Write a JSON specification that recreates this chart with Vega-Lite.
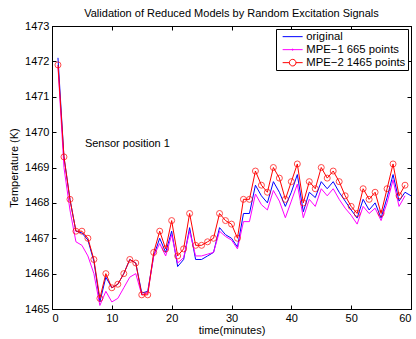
{
  "$schema": "https://vega.github.io/schema/vega-lite/v6.json",
  "width": 359,
  "height": 283,
  "autosize": "none",
  "padding": {"left": 52, "top": 26, "right": 5, "bottom": 30},
  "background": "white",
  "title": {"text": "Validation of Reduced Models by Random Excitation Signals", "font": "Liberation Sans", "fontSize": 11, "fontWeight": "normal", "color": "black", "anchor": "middle", "offset": 1},
  "config": {
    "view": {"stroke": "black", "strokeWidth": 1},
    "axis": {"grid": false, "domainColor": "black", "tickColor": "black", "labelColor": "black", "labelFont": "Liberation Sans", "labelFontSize": 11, "titleFont": "Liberation Sans", "titleFontSize": 11, "titleFontWeight": "normal", "titleColor": "black", "tickSize": -4, "labelPadding": 7}
  },
  "data": {"values": [
    {"t": 1, "original": 1472.1, "MPE−1 665 points": 1471.85, "MPE−2 1465 points": 1471.9},
    {"t": 2, "original": 1469.3, "MPE−1 665 points": 1469.0, "MPE−2 1465 points": 1469.3},
    {"t": 3, "original": 1468.1, "MPE−1 665 points": 1467.8, "MPE−2 1465 points": 1468.1},
    {"t": 4, "original": 1467.2, "MPE−1 665 points": 1466.9, "MPE−2 1465 points": 1467.2},
    {"t": 5, "original": 1467.15, "MPE−1 665 points": 1466.8, "MPE−2 1465 points": 1467.2},
    {"t": 6, "original": 1466.95, "MPE−1 665 points": 1466.5, "MPE−2 1465 points": 1467.0},
    {"t": 7, "original": 1466.35, "MPE−1 665 points": 1466.0, "MPE−2 1465 points": 1466.4},
    {"t": 8, "original": 1465.2, "MPE−1 665 points": 1465.1, "MPE−2 1465 points": 1465.3},
    {"t": 9, "original": 1465.9, "MPE−1 665 points": 1465.5, "MPE−2 1465 points": 1466.0},
    {"t": 10, "original": 1465.6, "MPE−1 665 points": 1465.2, "MPE−2 1465 points": 1465.6},
    {"t": 11, "original": 1465.7, "MPE−1 665 points": 1465.3, "MPE−2 1465 points": 1465.7},
    {"t": 12, "original": 1466.0, "MPE−1 665 points": 1465.6, "MPE−2 1465 points": 1466.0},
    {"t": 13, "original": 1466.4, "MPE−1 665 points": 1465.9, "MPE−2 1465 points": 1466.4},
    {"t": 14, "original": 1466.3, "MPE−1 665 points": 1466.0, "MPE−2 1465 points": 1466.3},
    {"t": 15, "original": 1465.45, "MPE−1 665 points": 1465.4, "MPE−2 1465 points": 1465.4},
    {"t": 16, "original": 1465.5, "MPE−1 665 points": 1465.45, "MPE−2 1465 points": 1465.4},
    {"t": 17, "original": 1466.5, "MPE−1 665 points": 1466.5, "MPE−2 1465 points": 1466.6},
    {"t": 18, "original": 1467.0, "MPE−1 665 points": 1466.85, "MPE−2 1465 points": 1467.2},
    {"t": 19, "original": 1466.6, "MPE−1 665 points": 1466.5, "MPE−2 1465 points": 1466.7},
    {"t": 20, "original": 1467.2, "MPE−1 665 points": 1467.1, "MPE−2 1465 points": 1467.5},
    {"t": 21, "original": 1466.2, "MPE−1 665 points": 1466.3, "MPE−2 1465 points": 1466.5},
    {"t": 22, "original": 1466.4, "MPE−1 665 points": 1466.45, "MPE−2 1465 points": 1466.7},
    {"t": 23, "original": 1467.3, "MPE−1 665 points": 1467.2, "MPE−2 1465 points": 1467.7},
    {"t": 24, "original": 1466.4, "MPE−1 665 points": 1466.5, "MPE−2 1465 points": 1466.8},
    {"t": 25, "original": 1466.4, "MPE−1 665 points": 1466.5, "MPE−2 1465 points": 1466.8},
    {"t": 26, "original": 1466.5, "MPE−1 665 points": 1466.55, "MPE−2 1465 points": 1466.9},
    {"t": 27, "original": 1466.6, "MPE−1 665 points": 1466.6, "MPE−2 1465 points": 1467.0},
    {"t": 28, "original": 1467.3, "MPE−1 665 points": 1467.2, "MPE−2 1465 points": 1467.7},
    {"t": 29, "original": 1467.1, "MPE−1 665 points": 1467.05, "MPE−2 1465 points": 1467.5},
    {"t": 30, "original": 1467.0, "MPE−1 665 points": 1466.95, "MPE−2 1465 points": 1467.4},
    {"t": 31, "original": 1466.75, "MPE−1 665 points": 1466.7, "MPE−2 1465 points": 1467.0},
    {"t": 32, "original": 1467.7, "MPE−1 665 points": 1467.47, "MPE−2 1465 points": 1468.1},
    {"t": 33, "original": 1467.7, "MPE−1 665 points": 1467.47, "MPE−2 1465 points": 1468.1},
    {"t": 34, "original": 1468.5, "MPE−1 665 points": 1468.25, "MPE−2 1465 points": 1468.9},
    {"t": 35, "original": 1468.2, "MPE−1 665 points": 1467.95, "MPE−2 1465 points": 1468.5},
    {"t": 36, "original": 1468.0, "MPE−1 665 points": 1467.8, "MPE−2 1465 points": 1468.3},
    {"t": 37, "original": 1468.6, "MPE−1 665 points": 1468.35, "MPE−2 1465 points": 1469.0},
    {"t": 38, "original": 1468.3, "MPE−1 665 points": 1468.05, "MPE−2 1465 points": 1468.7},
    {"t": 39, "original": 1467.9, "MPE−1 665 points": 1467.58, "MPE−2 1465 points": 1468.1},
    {"t": 40, "original": 1468.3, "MPE−1 665 points": 1468.05, "MPE−2 1465 points": 1468.6},
    {"t": 41, "original": 1468.8, "MPE−1 665 points": 1468.53, "MPE−2 1465 points": 1469.1},
    {"t": 42, "original": 1467.75, "MPE−1 665 points": 1467.58, "MPE−2 1465 points": 1468.0},
    {"t": 43, "original": 1468.3, "MPE−1 665 points": 1468.1, "MPE−2 1465 points": 1468.6},
    {"t": 44, "original": 1468.15, "MPE−1 665 points": 1467.9, "MPE−2 1465 points": 1468.4},
    {"t": 45, "original": 1468.6, "MPE−1 665 points": 1468.4, "MPE−2 1465 points": 1469.0},
    {"t": 46, "original": 1468.4, "MPE−1 665 points": 1468.2, "MPE−2 1465 points": 1468.7},
    {"t": 47, "original": 1468.6, "MPE−1 665 points": 1468.4, "MPE−2 1465 points": 1468.9},
    {"t": 48, "original": 1468.3, "MPE−1 665 points": 1468.1, "MPE−2 1465 points": 1468.6},
    {"t": 49, "original": 1468.05, "MPE−1 665 points": 1467.85, "MPE−2 1465 points": 1468.2},
    {"t": 50, "original": 1467.8, "MPE−1 665 points": 1467.65, "MPE−2 1465 points": 1467.9},
    {"t": 51, "original": 1467.57, "MPE−1 665 points": 1467.4, "MPE−2 1465 points": 1467.7},
    {"t": 52, "original": 1468.1, "MPE−1 665 points": 1467.9, "MPE−2 1465 points": 1468.4},
    {"t": 53, "original": 1467.8, "MPE−1 665 points": 1467.7, "MPE−2 1465 points": 1468.1},
    {"t": 54, "original": 1468.0, "MPE−1 665 points": 1467.85, "MPE−2 1465 points": 1468.3},
    {"t": 55, "original": 1467.57, "MPE−1 665 points": 1467.5, "MPE−2 1465 points": 1467.7},
    {"t": 56, "original": 1468.15, "MPE−1 665 points": 1468.0, "MPE−2 1465 points": 1468.4},
    {"t": 57, "original": 1468.8, "MPE−1 665 points": 1468.65, "MPE−2 1465 points": 1469.1},
    {"t": 58, "original": 1468.05, "MPE−1 665 points": 1467.9, "MPE−2 1465 points": 1468.2},
    {"t": 59, "original": 1468.3, "MPE−1 665 points": 1468.2, "MPE−2 1465 points": 1468.5},
    {"t": 60, "original": 1468.2, "MPE−1 665 points": null, "MPE−2 1465 points": null}
  ]},
  "transform": [{"fold": ["original", "MPE−1 665 points", "MPE−2 1465 points"], "as": ["series", "T"]}],
  "layer": [
    {
      "mark": {"type": "line", "strokeWidth": 1},
      "encoding": {
        "x": {"field": "t", "type": "quantitative", "scale": {"domain": [0, 60], "nice": false},
              "axis": {"orient": "bottom", "values": [0, 10, 20, 30, 40, 50, 60], "title": "time(minutes)", "titlePadding": 1, "labelPadding": 7}},
        "y": {"field": "T", "type": "quantitative", "scale": {"domain": [1465, 1473], "nice": false, "zero": false},
              "axis": {"orient": "left", "values": [1465, 1466, 1467, 1468, 1469, 1470, 1471, 1472, 1473], "format": "d", "title": "Temperature (K)", "titlePadding": 5, "labelPadding": 7}},
        "color": {"field": "series", "type": "nominal",
          "scale": {"domain": ["original", "MPE−1 665 points", "MPE−2 1465 points"], "range": ["#0000ff", "#ff00ff", "#ff0000"]},
          "legend": {"orient": "top-right", "offset": 3, "title": null, "strokeColor": "black", "fillColor": "white", "padding": 2,
            "labelFont": "Liberation Sans", "labelFontSize": 11.3, "labelColor": "black", "labelOffset": 8, "symbolSize": 100, "symbolStrokeWidth": 1, "rowPadding": 1, "symbolOffset": 9,
            "labelExpr": "datum.label + '\u00a0'",
            "encode": {"symbols": {"update": {
              "shape": {"signal": "datum.value === 'MPE−2 1465 points' ? 'M-2,0H-0.66A0.66,0.66 0 1,1 0.66,0A0.66,0.66 0 1,1 -0.66,0M0.66,0H2' : (datum.value === 'MPE−1 665 points' ? 'M-2,0H2M-0.12,0A0.12,0.12 0 1,1 0.12,0A0.12,0.12 0 1,1 -0.12,0' : 'M-2,0H2')"},
              "fill": {"value": "transparent"}}}}}
        }
      }
    },
    {
      "transform": [{"filter": "datum.series === 'MPE−2 1465 points' && datum.T != null"}],
      "mark": {"type": "point", "shape": "circle", "filled": false, "size": 36, "strokeWidth": 1, "color": "#ff0000"},
      "encoding": {
        "x": {"field": "t", "type": "quantitative", "axis": {"orient": "top", "values": [0, 10, 20, 30, 40, 50, 60], "labels": false, "title": null}},
        "y": {"field": "T", "type": "quantitative", "axis": {"orient": "right", "values": [1465, 1466, 1467, 1468, 1469, 1470, 1471, 1472, 1473], "labels": false, "title": null}}
      }
    },
    {
      "data": {"values": [{"label": "Sensor position 1"}]},
      "mark": {"type": "text", "align": "left", "baseline": "middle", "font": "Liberation Sans", "fontSize": 11, "color": "black"},
      "encoding": {
        "x": {"datum": 5.5, "type": "quantitative", "axis": null},
        "y": {"datum": 1469.67, "type": "quantitative", "axis": null},
        "text": {"field": "label"}
      }
    }
  ]
}
